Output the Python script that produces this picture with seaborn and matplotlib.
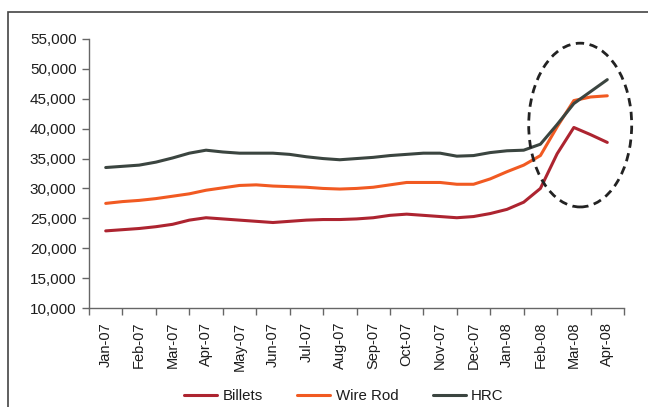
import matplotlib
matplotlib.use("Agg")
import matplotlib.pyplot as plt
from matplotlib.patches import Ellipse, Rectangle
from matplotlib.ticker import FuncFormatter, FixedLocator
import numpy as np
import pandas as pd
import seaborn as sns

# Monthly categories on the x axis
months = ["Jan-07", "Feb-07", "Mar-07", "Apr-07", "May-07", "Jun-07", "Jul-07",
          "Aug-07", "Sep-07", "Oct-07", "Nov-07", "Dec-07", "Jan-08", "Feb-08",
          "Mar-08", "Apr-08"]

# Price observations twice a month (position in months from Jan-07)
period = [0, 0.5, 1, 1.5, 2, 2.5, 3, 3.5, 4, 4.5, 5, 5.5, 6, 6.5, 7, 7.5,
          8, 8.5, 9, 9.5, 10, 10.5, 11, 11.5, 12, 12.5, 13, 13.5, 14, 14.5, 15]

billets = [22900, 23100, 23300, 23600, 24000, 24700, 25100, 24900, 24700, 24500,
           24300, 24500, 24700, 24800, 24800, 24900, 25100, 25500, 25700, 25500,
           25300, 25100, 25300, 25800, 26500, 27700, 30000, 35800, 40200, 39000,
           37700]
wire_rod = [27500, 27800, 28000, 28300, 28700, 29100, 29700, 30100, 30500, 30600,
            30400, 30300, 30200, 30000, 29900, 30000, 30200, 30600, 31000, 31000,
            31000, 30700, 30700, 31600, 32800, 33900, 35500, 40300, 44700, 45300,
            45500]
hrc = [33500, 33700, 33900, 34400, 35100, 35900, 36400, 36100, 35900, 35900,
       35900, 35700, 35300, 35000, 34800, 35000, 35200, 35500, 35700, 35900,
       35900, 35400, 35500, 36000, 36300, 36400, 37400, 40700, 44200, 46200,
       48200]

series_names = ["Billets", "Wire Rod", "HRC"]
series_colors = ["#AD2430", "#F15A22", "#3B4540"]

df = pd.DataFrame({
    "period": period * 3,
    "price": billets + wire_rod + hrc,
    "series": np.repeat(series_names, len(period)),
})

sns.set_theme(style="white")
plt.rcParams["font.family"] = ["Liberation Sans", "DejaVu Sans"]

fig = plt.figure(figsize=(6.48, 4.07), dpi=100)
ax = fig.add_axes([89 / 648, 1 - 308 / 407, (624 - 89) / 648, (308 - 39) / 407])

sns.lineplot(data=df, x="period", y="price", hue="series",
             hue_order=series_names, palette=series_colors,
             linewidth=2.2, ax=ax, legend=True)

text_color = "#1c1c1c"

# Axes styling
ax.set_xlim(-0.5, len(months) - 0.5)
ax.set_ylim(10000, 55000)
ax.set_yticks(np.arange(10000, 55001, 5000))
ax.yaxis.set_major_formatter(FuncFormatter(lambda v, _: f"{int(v):,}"))
ax.set_xticks(np.arange(len(months)))
ax.set_xticklabels(months, rotation=90)
ax.xaxis.set_minor_locator(FixedLocator(np.arange(-0.5, len(months), 1.0)))
ax.tick_params(axis="x", which="major", length=0, pad=10, labelsize=10.5,
               colors=text_color)
ax.tick_params(axis="x", which="minor", length=5, width=1, color="#666666",
               direction="out", bottom=True)
ax.tick_params(axis="y", length=5, width=1, color="#666666", direction="out",
               left=True, labelsize=11, labelcolor=text_color, pad=4)
ax.set_xlabel("")
ax.set_ylabel("")
for side in ["top", "right"]:
    ax.spines[side].set_visible(False)
for side in ["left", "bottom"]:
    ax.spines[side].set_color("#666666")
    ax.spines[side].set_linewidth(1)
ax.grid(False)

# Highlight the early-2008 price surge
ax.add_patch(Ellipse((14.19, 40600), width=3.08, height=27400, fill=False,
                     linestyle=(0, (3, 2)), linewidth=2, edgecolor="#222222",
                     clip_on=False, zorder=5))

# Legend below the axis
handles, labels = ax.get_legend_handles_labels()
ax.legend(handles, labels, loc="center", bbox_to_anchor=(344 / 648, 1 - 396 / 407),
          bbox_transform=fig.transFigure, ncol=3, frameon=False, fontsize=10.8,
          handlelength=2.2, handletextpad=0.35, columnspacing=2.3,
          labelcolor=text_color)

# Outer frame
fig.add_artist(Rectangle((8 / 648, -0.05), 1.0, 1 - 12 / 407 + 0.05,
                         transform=fig.transFigure, fill=False,
                         edgecolor="#444444", linewidth=1.2))

fig.savefig("out.png", dpi=100)
